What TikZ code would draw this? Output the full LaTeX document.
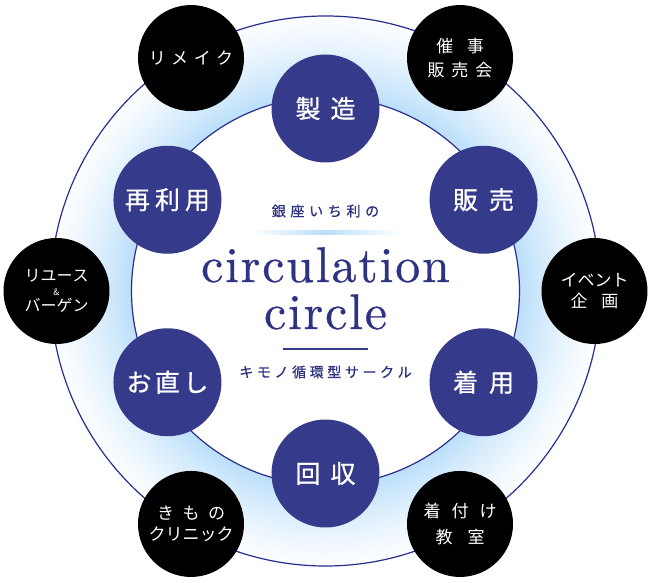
\documentclass[tikz,border=0pt]{standalone}
\usepackage{fontspec}
\newfontfamily\jpfont{Noto Sans CJK JP}
\newfontfamily\jpmedium{Noto Sans CJK JP}[FakeBold=0.8]
\newfontfamily\titlefont{lmroman10-regular.otf}[FakeBold=0.6]
\usetikzlibrary{positioning,calc}
\definecolor{navy}{RGB}{54,58,138}
\definecolor{ringline}{RGB}{42,46,140}
\definecolor{glow}{RGB}{186,222,250}
\definecolor{inktext}{RGB}{46,50,130}
\lineskiplimit=-30pt
% letter spacing: a kern between the characters
\newdimen\gapdim
\newcommand\gapped[2]{\gapdim=#1\relax\gappedfirst#2\relax}
\def\gappedfirst#1{\ifx\relax#1\else#1\expandafter\gappednext\fi}
\def\gappednext#1{\ifx\relax#1\else\kern\gapdim#1\expandafter\gappednext\fi}
\tikzset{
    cyclediagram/.style={
        x=1pt, y=1pt,
        % Stages of the circle (navy)
        stagenode/.style={circle, fill=navy, text=white,
                          minimum size=108pt, inner sep=0pt,
                          font=\jpmedium\fontsize{25}{30}\selectfont},
        % Events round it (black)
        eventnode/.style={circle, fill=black, text=white, align=center,
                          minimum size=106pt, inner sep=0pt,
                          font=\jpfont\fontsize{17}{24}\selectfont},
        % Texts in the middle
        centertext/.style={text=inktext, inner sep=0pt,
                           font=\jpmedium\fontsize{14}{16}\selectfont},
        titletext/.style={text=inktext, inner sep=0pt, anchor=base,
                          font=\titlefont\fontsize{50}{50}\selectfont},
        ring/.style={draw=ringline, line width=1.2pt}
    }
}
\begin{document}
\begin{tikzpicture}[cyclediagram]
    \useasboundingbox (0,0) rectangle (650,582);
    \fill[white] (0,0) rectangle (650,582);
    \coordinate (c) at (325.5,291);
    % glow between the two rings
    \foreach \r in {286,284,...,194}{
        \pgfmathtruncatemacro\pct{100*((286-\r)/92)^1.4}
        \fill[glow!\pct!white] (c) circle (\r pt);
    }
    \draw[ring] (c) circle (275pt);
    \fill[white] (c) circle (194pt);
    \draw[ring] (c) circle (194pt);

    % stages
    \node[stagenode] (make)    at ($(c)+(90:182.5pt)$)  {\gapped{10pt}{製造}};
    \node[stagenode] (sell)    at ($(c)+(30:182.5pt)$)  {\gapped{11pt}{販売}};
    \node[stagenode] (wear)    at ($(c)+(-30:182.5pt)$) {\gapped{11pt}{着用}};
    \node[stagenode] (collect) at ($(c)+(-90:182.5pt)$) {\gapped{10pt}{回収}};
    \node[stagenode] (repair)  at ($(c)+(-150:182.5pt)$) {\gapped{3.5pt}{お直し}};
    \node[stagenode] (reuse)   at ($(c)+(150:182.5pt)$) {\gapped{5pt}{再利用}};

    % events
    \node[eventnode] (remake)  at ($(c)+(120:269pt)$) {\gapped{5.5pt}{リメイク}};
    \node[eventnode] (fair)    at ($(c)+(60:269pt)$)  {\gapped{13.5pt}{催事}\\\gapped{7pt}{販売会}};
    \node[eventnode] (event)   at ($(c)+(0:269pt)$)   {\gapped{0pt}{イベント}\\[-3pt]\gapped{14pt}{企画}};
    \node[eventnode] (dressing) at ($(c)+(-60:269pt)$) {\gapped{11pt}{着付け}\\[2pt]\gapped{15pt}{教室}};
    \node[eventnode] (clinic)  at ($(c)+(-120:269pt)$) {\gapped{8.5pt}{きもの}\\[-3pt]\gapped{0pt}{クリニック}};
    \node[eventnode, font=\jpfont\fontsize{16}{14}\selectfont] (bargain) at ($(c)+(180:269pt)$)
        {\gapped{0pt}{リユース}\\{\fontsize{9}{9}\selectfont\&}\\[2pt]\gapped{0pt}{バーゲン}};

    % middle
    \node[centertext] (brand) at ($(c)+(0,80pt)$) {\gapped{4.7pt}{銀座いち利の}};
    \shade[left color=white, right color=white, middle color=glow]
        ($(c)+(-75pt,57pt)$) rectangle ($(c)+(75pt,61pt)$);
    \node[titletext] (title1) at ($(c)+(0,9pt)$)   {\gapped{1.8pt}{circulation}};
    \node[titletext] (title2) at ($(c)+(0,-38pt)$) {\gapped{1.8pt}{circle}};
    \draw[navy, line width=1.5pt] ($(c)+(-42.5pt,-58pt)$) -- ($(c)+(42.5pt,-58pt)$);
    \node[centertext] (subtitle) at ($(c)+(0,-81pt)$) {\gapped{3.6pt}{キモノ循環型サークル}};
\end{tikzpicture}
\end{document}
